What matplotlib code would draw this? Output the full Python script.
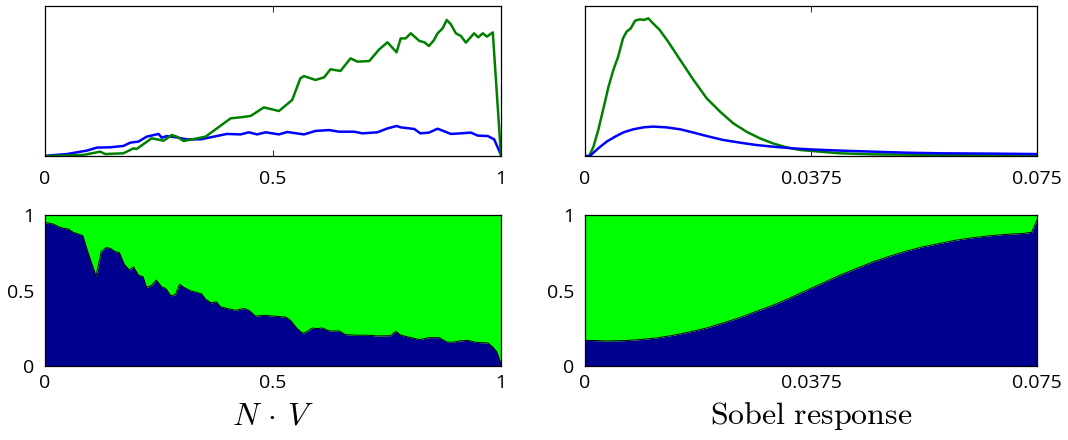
import numpy as np
import matplotlib.pyplot as plt

plt.rcParams['font.family'] = 'Open Sans'
plt.rcParams['mathtext.fontset'] = 'cm'

# %% data (normalised heights)
# top-left: N.V histograms
nv_green_x = [0.0, 0.011, 0.084, 0.121, 0.132, 0.172, 0.194, 0.201, 0.234, 0.260, 0.278, 0.289,
              0.304, 0.341, 0.352, 0.377, 0.407, 0.429, 0.451, 0.480, 0.513, 0.542, 0.560,
              0.568, 0.593, 0.612, 0.626, 0.648, 0.670, 0.685, 0.711, 0.733, 0.751, 0.771,
              0.780, 0.791, 0.802, 0.821, 0.832, 0.842, 0.853, 0.861, 0.872, 0.881, 0.890,
              0.901, 0.912, 0.923, 0.941, 0.950, 0.960, 0.969, 0.982, 1.0]
nv_green_y = [0.0, 0.0, 0.007, 0.029, 0.013, 0.018, 0.051, 0.047, 0.118, 0.102, 0.140, 0.129,
              0.100, 0.122, 0.129, 0.184, 0.251, 0.258, 0.267, 0.324, 0.300, 0.373, 0.518,
              0.533, 0.507, 0.524, 0.578, 0.567, 0.651, 0.629, 0.633, 0.711, 0.758, 0.691,
              0.784, 0.784, 0.818, 0.767, 0.758, 0.733, 0.773, 0.818, 0.851, 0.907, 0.878,
              0.818, 0.800, 0.756, 0.818, 0.791, 0.818, 0.796, 0.824, 0.0]
nv_blue_x = [0.0, 0.011, 0.048, 0.092, 0.114, 0.143, 0.172, 0.187, 0.205, 0.223, 0.249, 0.256,
             0.267, 0.289, 0.311, 0.341, 0.370, 0.399, 0.429, 0.447, 0.465, 0.484, 0.513,
             0.531, 0.568, 0.593, 0.623, 0.645, 0.678, 0.696, 0.729, 0.751, 0.771, 0.780,
             0.810, 0.823, 0.842, 0.861, 0.890, 0.912, 0.934, 0.949, 0.971, 0.985, 1.0]
nv_blue_y = [0.0, 0.004, 0.013, 0.036, 0.056, 0.058, 0.067, 0.089, 0.096, 0.129, 0.147, 0.122,
             0.133, 0.124, 0.111, 0.111, 0.129, 0.147, 0.144, 0.158, 0.144, 0.158, 0.144,
             0.160, 0.144, 0.167, 0.173, 0.162, 0.162, 0.151, 0.158, 0.184, 0.200, 0.191,
             0.180, 0.151, 0.156, 0.182, 0.147, 0.151, 0.156, 0.136, 0.133, 0.111, 0.007]

# top-right: Sobel histograms
sb_green_x = [0.0, 0.0007, 0.0014, 0.0022, 0.0030, 0.0039, 0.0047, 0.0055, 0.0063, 0.0069,
              0.0076, 0.0083, 0.0091, 0.0098, 0.0105, 0.0113, 0.0124, 0.0138, 0.0158, 0.0180,
              0.0202, 0.0224, 0.0246, 0.0268, 0.0290, 0.0312, 0.0334, 0.0357, 0.0390, 0.0423,
              0.0478, 0.0589, 0.075]
sb_green_y = [0.0, 0.0, 0.062, 0.173, 0.307, 0.462, 0.573, 0.662, 0.784, 0.829, 0.851, 0.902,
              0.911, 0.907, 0.918, 0.884, 0.840, 0.762, 0.640, 0.507, 0.384, 0.296, 0.218,
              0.162, 0.118, 0.084, 0.058, 0.040, 0.029, 0.018, 0.011, 0.007, 0.004]
sb_blue_x = [0.0, 0.0008, 0.0022, 0.0036, 0.0050, 0.0064, 0.0080, 0.0097, 0.0113, 0.0135,
             0.0158, 0.0180, 0.0202, 0.0229, 0.0257, 0.0285, 0.0312, 0.0345, 0.0374, 0.0423,
             0.0478, 0.0533, 0.0589, 0.0672, 0.075]
sb_blue_y = [0.0, 0.0, 0.051, 0.096, 0.129, 0.158, 0.178, 0.191, 0.196, 0.191, 0.178, 0.156,
             0.133, 0.107, 0.089, 0.073, 0.062, 0.051, 0.044, 0.036, 0.029, 0.022, 0.018,
             0.016, 0.013]

# bottom-left: fraction (blue) vs N.V
nv_frac_x = [0.0, 0.011, 0.018, 0.029, 0.040, 0.051, 0.062, 0.073, 0.083, 0.095, 0.112, 0.123,
             0.134, 0.143, 0.154, 0.163, 0.174, 0.185, 0.194, 0.205, 0.215, 0.223, 0.234,
             0.244, 0.256, 0.265, 0.276, 0.286, 0.295, 0.305, 0.319, 0.333, 0.344, 0.352,
             0.365, 0.376, 0.385, 0.399, 0.418, 0.436, 0.447, 0.462, 0.480, 0.502, 0.527,
             0.538, 0.553, 0.564, 0.571, 0.586, 0.597, 0.608, 0.623, 0.645, 0.659, 0.681,
             0.707, 0.729, 0.758, 0.769, 0.780, 0.802, 0.821, 0.842, 0.864, 0.881, 0.894,
             0.908, 0.927, 0.941, 0.952, 0.971, 0.982, 0.991, 1.0]
nv_frac_y = [0.949, 0.945, 0.940, 0.923, 0.912, 0.907, 0.885, 0.874, 0.863, 0.746, 0.595, 0.757,
             0.785, 0.779, 0.757, 0.752, 0.673, 0.635, 0.657, 0.602, 0.591, 0.520, 0.535,
             0.569, 0.524, 0.513, 0.465, 0.473, 0.542, 0.520, 0.498, 0.487, 0.476, 0.442,
             0.418, 0.425, 0.392, 0.381, 0.369, 0.381, 0.369, 0.330, 0.336, 0.330, 0.325,
             0.303, 0.248, 0.219, 0.221, 0.252, 0.248, 0.252, 0.232, 0.232, 0.208, 0.204,
             0.204, 0.199, 0.201, 0.230, 0.204, 0.188, 0.175, 0.188, 0.188, 0.159, 0.157,
             0.166, 0.170, 0.159, 0.155, 0.153, 0.126, 0.093, 0.015]

# bottom-right: fraction (blue) vs Sobel response
sb_frac_x = [0.0, 0.0036, 0.0064, 0.0091, 0.0119, 0.0147, 0.0174, 0.0202, 0.0229, 0.0257,
             0.0285, 0.0312, 0.0340, 0.0368, 0.0395, 0.0423, 0.0450, 0.0478, 0.0506, 0.0533,
             0.0561, 0.0589, 0.0616, 0.0644, 0.0672, 0.0699, 0.0727, 0.0741, 0.075]
sb_frac_y = [0.170, 0.166, 0.168, 0.175, 0.186, 0.204, 0.226, 0.252, 0.285, 0.321, 0.363,
             0.403, 0.451, 0.502, 0.551, 0.602, 0.646, 0.690, 0.728, 0.761, 0.790, 0.812,
             0.834, 0.850, 0.863, 0.872, 0.878, 0.885, 0.967]

GREEN = '#008000'
BLUE = '#0000ff'
NAVY = '#00008f'
LIME = '#00ff00'

# %% figure
fig = plt.figure(figsize=(10.68, 4.4), dpi=100)
W, H = 1068, 440
def box(x0, y0, x1, y1):
    return [x0 / W, 1 - y1 / H, (x1 - x0) / W, (y1 - y0) / H]

ax_tl = fig.add_axes(box(45, 6, 501, 156))
ax_tr = fig.add_axes(box(585, 6, 1037, 156))
ax_bl = fig.add_axes(box(45, 215, 501, 366))
ax_br = fig.add_axes(box(585, 215, 1037, 366))

ax_tl.plot(nv_blue_x, nv_blue_y, color=BLUE, lw=1.8)
ax_tl.plot(nv_green_x, nv_green_y, color=GREEN, lw=1.8)
ax_tr.plot(sb_green_x, sb_green_y, color=GREEN, lw=1.8)
ax_tr.plot(sb_blue_x, sb_blue_y, color=BLUE, lw=1.8)

ax_bl.fill_between(nv_frac_x, 0, nv_frac_y, color=NAVY, lw=0)
ax_bl.fill_between(nv_frac_x, nv_frac_y, 1, color=LIME, lw=0)
ax_bl.plot(nv_frac_x, nv_frac_y, color='black', lw=0.7)
ax_br.fill_between(sb_frac_x, 0, sb_frac_y, color=NAVY, lw=0)
ax_br.fill_between(sb_frac_x, sb_frac_y, 1, color=LIME, lw=0)
ax_br.plot(sb_frac_x, sb_frac_y, color='black', lw=0.7)

for ax, xmax, ticks, labels in [(ax_tl, 1, [0, 0.5, 1], ['0', '0.5', '1']),
                                (ax_bl, 1, [0, 0.5, 1], ['0', '0.5', '1']),
                                (ax_tr, 0.075, [0, 0.0375, 0.075], ['0', '0.0375', '0.075']),
                                (ax_br, 0.075, [0, 0.0375, 0.075], ['0', '0.0375', '0.075'])]:
    ax.set_xlim(0, xmax)
    ax.set_ylim(0, 1)
    ax.set_xticks(ticks)
    ax.set_xticklabels(labels)
    ax.tick_params(axis='x', direction='in', top=True, length=4, width=0.6, labelsize=14, pad=10)
    for s in ax.spines.values():
        s.set_linewidth(0.9)

for ax in (ax_tl, ax_tr):
    ax.set_yticks([])
for ax in (ax_bl, ax_br):
    ax.set_yticks([0, 0.5, 1])
    ax.set_yticklabels(['0', '0.5', '1'])
    ax.tick_params(axis='y', direction='in', length=0, labelsize=14, pad=8)
    ax.tick_params(axis='x', length=0, pad=6)

ax_bl.set_xlabel(r'$N\,\cdot\,V$', fontsize=23, labelpad=5)
ax_br.set_xlabel(r'$\mathrm{Sobel\ response}$', fontsize=23, labelpad=5)

fig.savefig('out.png', dpi=100)
